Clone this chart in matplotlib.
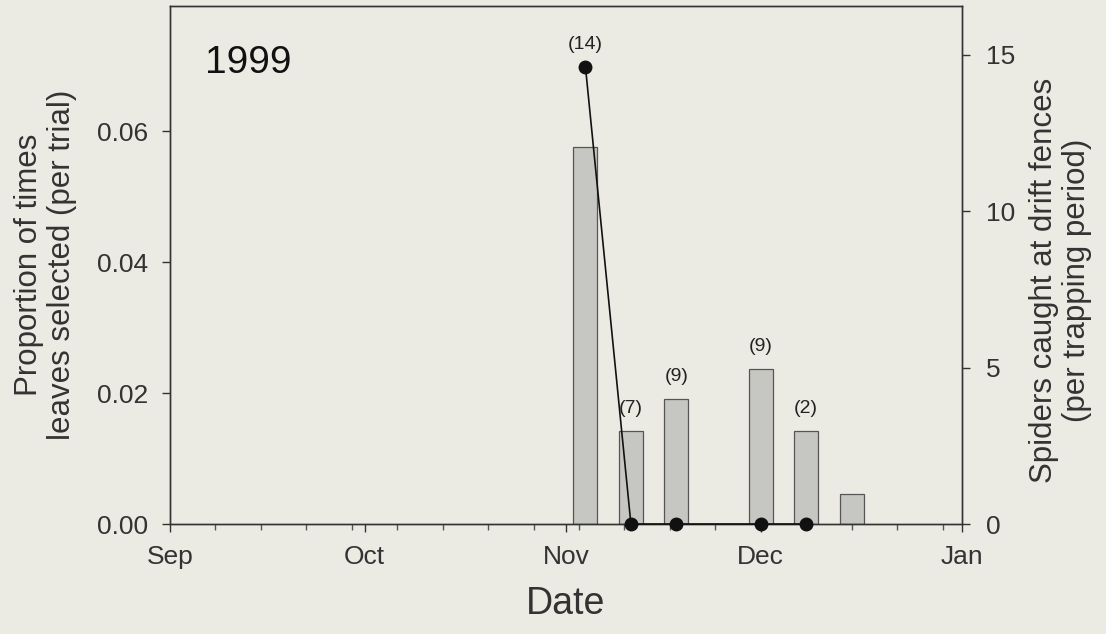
import numpy as np
import matplotlib
matplotlib.use("Agg")
import matplotlib.pyplot as plt
import matplotlib.dates as mdates

# data
bar_dates = ['1999-11-04', '1999-11-11', '1999-11-18', '1999-12-01', '1999-12-08', '1999-12-15']
proportion = [0.0575, 0.0142, 0.0191, 0.0237, 0.0142, 0.0046]
spider_dates = ['1999-11-04', '1999-11-11', '1999-11-18', '1999-12-01', '1999-12-08']
spiders = [14.6, 0, 0, 0, 0]
n_labels = ['(14)', '(7)', '(9)', '(9)', '(2)']
month_ticks = ['1999-09-01', '1999-10-01', '1999-11-01', '1999-12-01', '2000-01-01']
month_names = ['Sep', 'Oct', 'Nov', 'Dec', 'Jan']

plt.rcParams['font.family'] = ['Liberation Sans', 'DejaVu Sans']
bg = '#ecebe3'

fig = plt.figure(figsize=(11.06, 6.34), dpi=100, facecolor=bg)
ax = fig.add_axes([0.1537, 0.1735, 0.8698 - 0.1537, 0.9905 - 0.1735])
ax.set_facecolor(bg)

bx = mdates.date2num(np.array(bar_dates, dtype='datetime64[D]'))
sx = mdates.date2num(np.array(spider_dates, dtype='datetime64[D]'))

ax.bar(bx, proportion, width=3.7, color='#c6c6c2', edgecolor='#555555', linewidth=0.9, zorder=2)
ax.set_ylim(0, 0.0791)
ax.set_yticks([0, 0.02, 0.04, 0.06])
ax.set_yticklabels(['0.00', '0.02', '0.04', '0.06'])

mt = mdates.date2num(np.array(month_ticks, dtype='datetime64[D]'))
ax.set_xlim(mt[0], mt[-1])
ax.set_xticks(mt)
ax.set_xticklabels(month_names)
ax.set_xticks(np.arange(mt[0], mt[-1], 7), minor=True)

ax2 = ax.twinx()
ax2.plot(sx, spiders, color='#111111', linewidth=1.2, marker='o', markersize=9,
         clip_on=False, zorder=5)
ax2.set_ylim(0, 16.55)
ax2.set_yticks([0, 5, 10, 15])

# sample size labels above the higher of bar / point
for i, lab in enumerate(n_labels):
    y_bar = ax.transData.transform((bx[i], proportion[i]))[1]
    y_pt = ax2.transData.transform((sx[i], spiders[i]))[1]
    if y_pt > y_bar:
        ax2.annotate(lab, (sx[i], spiders[i]), xytext=(0, 16), textcoords='offset points',
                     ha='center', va='center', fontsize=14, color='#222222')
    else:
        ax.annotate(lab, (bx[i], proportion[i]), xytext=(0, 16), textcoords='offset points',
                    ha='center', va='center', fontsize=14, color='#222222')

for a in (ax, ax2):
    for s in a.spines.values():
        s.set_color('#333333')
        s.set_linewidth(1.0)
    a.tick_params(direction='out', length=6, width=1, colors='#333333', labelsize=19,
                  labelcolor='#333333')
    a.tick_params(which='minor', direction='out', length=4, width=1, colors='#555555')

ax.tick_params(axis='y', pad=10)
ax2.tick_params(axis='y', pad=11)
ax.tick_params(axis='x', pad=9)
ax.set_ylabel('Proportion of times\nleaves selected (per trial)', fontsize=22.5,
              color='#333333', labelpad=14, linespacing=1.15)
ax2.set_ylabel('Spiders caught at drift fences\n(per trapping period)', fontsize=22.5,
               color='#333333', linespacing=1.15, rotation=90)
ax2.yaxis.set_label_coords(1.084, 0.47)
ax.set_xlabel('Date', fontsize=27, color='#333333', labelpad=12)

ax.text(0.044, 0.89, '1999', transform=ax.transAxes, fontsize=28, color='#111111',
        ha='left', va='center')

fig.savefig('out.png', dpi=100, facecolor=bg)
